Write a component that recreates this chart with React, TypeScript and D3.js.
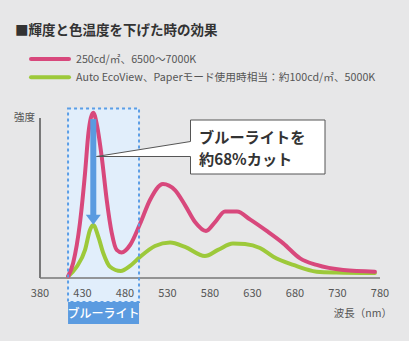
import React from "react";
import * as d3 from "d3";

const title = "■輝度と色温度を下げた時の効果";
const legendLabels = [
  "250cd/㎡、6500〜7000K",
  "Auto EcoView、Paperモード使用時相当：約100cd/㎡、5000K",
];
const seriesColors = ["#d8487c", "#9dc93a"];
const xTicks = [380, 430, 480, 530, 580, 630, 680, 730, 780];
const yLabel = "強度";
const xLabel = "波長（nm）";
const bandLabel = "ブルーライト";
const calloutLines = ["ブルーライトを", "約68%カット"];
const blueBand = [413, 496.5];

const pinkNm = [413, 419, 427, 433, 437, 442.7, 447, 452.6, 458.5, 464.4, 470.2, 476, 486, 497.6, 509.4, 524.7, 538.8, 550.6, 562.4, 575.3, 586, 597.6, 611.8, 627, 646.7, 666.2, 686, 705.5, 736.8, 774];
const pinkVal = [0.6, 8.8, 33, 63.3, 87.6, 99.9, 92.4, 73.2, 47, 27, 16.7, 15.2, 19.7, 32.4, 47, 56.7, 53, 43.9, 33.6, 28.2, 33.6, 40, 40, 35.2, 28.2, 20.7, 11.6, 7.6, 4.5, 3.5];
const greenNm = [413, 423.2, 433, 438.8, 442.7, 448.6, 454.5, 462.4, 475, 486, 497.6, 515.3, 533, 550.6, 574, 589.4, 607, 621.2, 638.8, 654.5, 678, 705.5, 729, 774];
const greenVal = [0.6, 6.5, 16.7, 28.8, 31.8, 24.7, 14.7, 6.5, 3.9, 7, 12.4, 19.1, 21.2, 18.5, 13, 16.7, 20.6, 20.3, 17.9, 12.6, 7.6, 3.5, 3, 2.7];
const arrowFrom = 96;
const arrowTo = 32;
const arrowNm = 442.7;

const FONT = "'Noto Sans CJK JP', 'Noto Sans', sans-serif";

export default function App() {
  const W = 409;
  const H = 341;
  const x = d3.scaleLinear().domain([380, 780]).range([40, 380]);
  const y = d3.scaleLinear().domain([0, 100]).range([277.5, 112.5]);
  const line = d3
    .line<[number, number]>()
    .x((d) => x(d[0]))
    .y((d) => y(d[1]))
    .curve(d3.curveMonotoneX);
  const pink: [number, number][] = pinkNm.map((n, i) => [n, pinkVal[i]]);
  const green: [number, number][] = greenNm.map((n, i) => [n, greenVal[i]]);

  const bx0 = x(blueBand[0]);
  const bx1 = x(blueBand[1]);
  const ax = x(arrowNm);
  const ay0 = y(arrowFrom);
  const ay1 = y(arrowTo);

  // callout
  const cL = 190.5, cR = 325, cT = 120, cB = 174;
  const tipX = 96.5, tipY = 156.5;
  const callPath = `M${cL},${cT}L${cR},${cT}L${cR},${cB}L${cL},${cB}L${cL},${tipY}L${tipX},${tipY}L${cL},141.5Z`;

  return (
    <svg
      width={W}
      height={H}
      style={{ position: "absolute", left: 0, top: 0, background: "#e7e7e8" }}
      fontFamily={FONT}
    >
      <rect x={0} y={0} width={W} height={H} fill="#e7e7e8" />
      <text x={15} y={34.5} fontSize={13.5} fontWeight={700} fill="#333">
        {title}
      </text>
      {legendLabels.map((l, i) => (
        <g key={i}>
          <line
            x1={31}
            x2={69}
            y1={59 + i * 18.3}
            y2={59 + i * 18.3}
            stroke={seriesColors[i]}
            strokeWidth={4}
            strokeLinecap="round"
          />
          <text x={76} y={63 + i * 18.3} fontSize={10.7} fill="#555">
            {l}
          </text>
        </g>
      ))}

      {/* blue band */}
      <rect x={bx0} y={108.5} width={bx1 - bx0} height={302 - 108.5} fill="#e1eefb" />

      {/* axes */}
      <line x1={40} x2={40} y1={118} y2={278} stroke="#555" strokeWidth={1.5} />
      <line x1={40} x2={380} y1={278} y2={278} stroke="#777" strokeWidth={1.5} />
      <text x={14} y={121} fontSize={10.5} fill="#555">
        {yLabel}
      </text>
      {xTicks.map((t) => (
        <text key={t} x={x(t)} y={297} fontSize={11} fill="#555" textAnchor="middle">
          {t}
        </text>
      ))}
      <text x={392} y={317} fontSize={10.5} fill="#555" textAnchor="end">
        {xLabel}
      </text>

      {/* curves */}
      <path d={line(green) || ""} fill="none" stroke={seriesColors[1]} strokeWidth={4} strokeLinecap="round" strokeLinejoin="round" />
      <path d={line(pink) || ""} fill="none" stroke={seriesColors[0]} strokeWidth={4} strokeLinecap="round" strokeLinejoin="round" />

      {/* dashed band border */}
      <rect
        x={bx0}
        y={108.5}
        width={bx1 - bx0}
        height={302 - 108.5}
        fill="none"
        stroke="#5b9ee6"
        strokeWidth={2}
        strokeDasharray="3,3"
      />

      {/* band label */}
      <rect x={bx0} y={302} width={bx1 - bx0} height={22} fill="#5b9be0" />
      <text x={(bx0 + bx1) / 2} y={318} fontSize={12} fontWeight={500} fill="#fff" textAnchor="middle">
        {bandLabel}
      </text>

      {/* arrow */}
      <line x1={ax} x2={ax} y1={ay0} y2={ay1 - 9} stroke="#5a9be0" strokeWidth={6} />
      <path d={`M${ax - 7.5},${ay1 - 10}L${ax + 7.5},${ay1 - 10}L${ax},${ay1}Z`} fill="#5a9be0" />

      {/* callout */}
      <path d={callPath} fill="#fff" stroke="#555" strokeWidth={1} />
      {calloutLines.map((l, i) => (
        <text key={i} x={199} y={142.5 + i * 22.2} fontSize={15.2} fontWeight={700} fill="#333">
          {l}
        </text>
      ))}
    </svg>
  );
}
